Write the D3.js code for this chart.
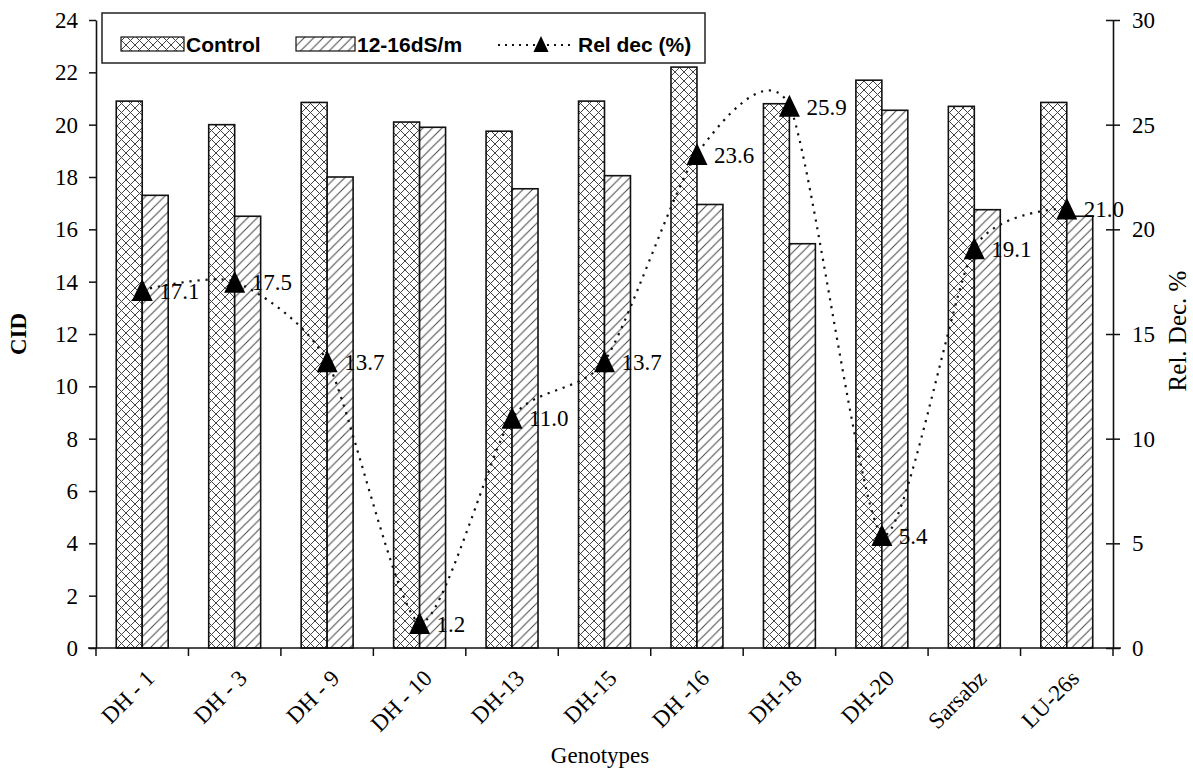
<!DOCTYPE html>
<html>
<head>
<meta charset="utf-8">
<script src="https://cdn.jsdelivr.net/npm/d3@7/dist/d3.min.js"></script>
<style>
  body { margin: 0; background: #fff; }
  svg { display: block; }
</style>
</head>
<body>
<svg id="chart" width="1193" height="768"></svg>
<script>
const categories = ["DH - 1", "DH - 3", "DH - 9", "DH - 10", "DH-13", "DH-15", "DH -16", "DH-18", "DH-20", "Sarsabz", "LU-26s"];
const controlValues = [20.9, 20.0, 20.85, 20.1, 19.75, 20.9, 22.2, 20.8, 21.7, 20.7, 20.85];
const stressValues = [17.3, 16.5, 18.0, 19.9, 17.55, 18.05, 16.95, 15.45, 20.55, 16.75, 16.5];
const relDecValues = [17.1, 17.5, 13.7, 1.2, 11.0, 13.7, 23.6, 25.9, 5.4, 19.1, 21.0];
const leftTicks = [0, 2, 4, 6, 8, 10, 12, 14, 16, 18, 20, 22, 24];
const rightTicks = [0, 5, 10, 15, 20, 25, 30];
const seriesNames = ["Control", "12-16dS/m", "Rel dec (%)"];

const svg = d3.select("#chart");
const pL = 96, pR = 1113, pT = 20, pB = 648;
const serif = "'Liberation Serif', 'Times New Roman', serif";
const sans = "'Liberation Sans', Arial, sans-serif";
const FS = 23;

// patterns
const defs = svg.append("defs");
const cs = 9;
const cross = defs.append("pattern").attr("id", "cross").attr("patternUnits", "userSpaceOnUse")
  .attr("width", cs).attr("height", cs);
cross.append("rect").attr("width", cs).attr("height", cs).attr("fill", "#fff");
cross.append("path").attr("d", `M0,0L${cs},${cs}M${cs},0L0,${cs}`).attr("stroke", "#444").attr("stroke-width", 1);
const hs = 9.5;
const hatch = defs.append("pattern").attr("id", "hatch").attr("patternUnits", "userSpaceOnUse")
  .attr("width", hs).attr("height", hs);
hatch.append("rect").attr("width", hs).attr("height", hs).attr("fill", "#fff");
hatch.append("path").attr("d", `M-2,2L2,-2M0,${hs}L${hs},0M${hs - 2},${hs + 2}L${hs + 2},${hs - 2}`)
  .attr("stroke", "#444").attr("stroke-width", 1);

const x0 = d3.scaleBand().domain(categories).range([pL, pR]).padding(0);
const x1 = d3.scaleBand().domain(["c", "s"]).range([0, x0.bandwidth()]).paddingInner(0).paddingOuter(0.78);
const yL = d3.scaleLinear().domain([0, 24]).range([pB, pT]);
const yR = d3.scaleLinear().domain([0, 30]).range([pB, pT]);

// bars
const g = svg.append("g");
categories.forEach((c, i) => {
  g.append("rect").attr("x", x0(c) + x1("c")).attr("width", x1.bandwidth())
    .attr("y", yL(controlValues[i])).attr("height", yL(0) - yL(controlValues[i]))
    .attr("fill", "url(#cross)").attr("stroke", "#111").attr("stroke-width", 1.6);
  g.append("rect").attr("x", x0(c) + x1("s")).attr("width", x1.bandwidth())
    .attr("y", yL(stressValues[i])).attr("height", yL(0) - yL(stressValues[i]))
    .attr("fill", "url(#hatch)").attr("stroke", "#111").attr("stroke-width", 1.6);
});

// axes
const axL = svg.append("g").attr("transform", `translate(${pL},0)`)
  .call(d3.axisLeft(yL).tickValues(leftTicks).tickSize(7).tickPadding(11).tickSizeOuter(0));
const axR = svg.append("g").attr("transform", `translate(${pR},0)`)
  .call(d3.axisRight(yR).tickValues(rightTicks).tickSize(7).tickPadding(12).tickSizeOuter(0));
axR.selectAll(".tick line").attr("x1", -7).attr("x2", 7);
const axB = svg.append("g").attr("transform", `translate(0,${pB})`)
  .call(d3.axisBottom(x0).tickSize(0).tickFormat(""));
axB.select(".domain").attr("d", `M${pL - 8},0H${pR + 8}`);
const bounds = categories.map(c => x0(c)).concat([pR]);
axB.selectAll(".bt").data(bounds).enter().append("line")
  .attr("x1", d => d).attr("x2", d => d).attr("y1", 0).attr("y2", 8)
  .attr("stroke", "#111").attr("stroke-width", 1.5);
axB.selectAll(".xl").data(categories).enter().append("text")
  .attr("transform", d => `translate(${x0(d) + x0.bandwidth() / 2 + 8},${26}) rotate(-45)`)
  .attr("text-anchor", "end").attr("dy", "0.35em")
  .attr("font-family", serif).attr("font-size", FS).attr("fill", "#000").text(d => d);

[axL, axR, axB].forEach(a => {
  a.selectAll(".domain").attr("stroke", "#111").attr("stroke-width", 1.6);
  a.selectAll(".tick line").attr("stroke", "#111").attr("stroke-width", 1.5);
  a.selectAll(".tick text").attr("font-family", serif).attr("font-size", FS).attr("fill", "#000");
});

// line
const pts = categories.map((c, i) => [x0(c) + x0.bandwidth() / 2, yR(relDecValues[i])]);
svg.append("path").attr("d", d3.line().curve(d3.curveCardinal.tension(0.3))(pts))
  .attr("fill", "none").attr("stroke", "#111").attr("stroke-width", 2.2)
  .attr("stroke-dasharray", "2.2,5.8");
const tri = "M0,-11L10.5,11L-10.5,11Z";
svg.selectAll(".mk").data(pts).enter().append("path")
  .attr("transform", d => `translate(${d[0]},${d[1]})`)
  .attr("d", tri).attr("fill", "#000");
svg.selectAll(".lbl").data(relDecValues).enter().append("text")
  .attr("x", (d, i) => pts[i][0] + 17).attr("y", (d, i) => pts[i][1])
  .attr("dy", "0.38em").attr("font-family", serif).attr("font-size", FS).attr("fill", "#000")
  .text(d => d.toFixed(1));

// axis titles
svg.append("text").attr("transform", `translate(26,${(pT + pB) / 2}) rotate(-90)`)
  .attr("text-anchor", "middle").attr("font-family", serif).attr("font-size", FS).attr("font-weight", "bold").text("CID");
svg.append("text").attr("transform", `translate(1186,${(pT + pB) / 2 - 3}) rotate(-90)`)
  .attr("text-anchor", "middle").attr("font-family", serif).attr("font-size", 25).text("Rel. Dec. %");
svg.append("text").attr("x", 600).attr("y", 763).attr("text-anchor", "middle")
  .attr("font-family", serif).attr("font-size", FS).text("Genotypes");

// legend
const lg = svg.append("g");
lg.append("rect").attr("x", 102).attr("y", 13).attr("width", 603).attr("height", 50)
  .attr("fill", "#fff").attr("stroke", "#222").attr("stroke-width", 1.5);
lg.append("rect").attr("x", 121).attr("y", 37).attr("width", 63).attr("height", 14)
  .attr("fill", "url(#cross)").attr("stroke", "#111").attr("stroke-width", 1.2);
lg.append("text").attr("x", 186).attr("y", 52).attr("font-family", sans).attr("font-weight", "bold")
  .attr("font-size", 21).text(seriesNames[0]);
lg.append("rect").attr("x", 296).attr("y", 37).attr("width", 59).attr("height", 14)
  .attr("fill", "url(#hatch)").attr("stroke", "#111").attr("stroke-width", 1.2);
lg.append("text").attr("x", 357).attr("y", 52).attr("font-family", sans).attr("font-weight", "bold")
  .attr("font-size", 21).text(seriesNames[1]);
lg.append("line").attr("x1", 498).attr("x2", 572).attr("y1", 45).attr("y2", 45)
  .attr("stroke", "#111").attr("stroke-width", 2).attr("stroke-dasharray", "2,5");
lg.append("path").attr("transform", "translate(541,44) scale(0.72)")
  .attr("d", tri).attr("fill", "#000");
lg.append("text").attr("x", 578).attr("y", 52).attr("font-family", sans).attr("font-weight", "bold")
  .attr("font-size", 21).text(seriesNames[2]);
</script>
</body>
</html>
